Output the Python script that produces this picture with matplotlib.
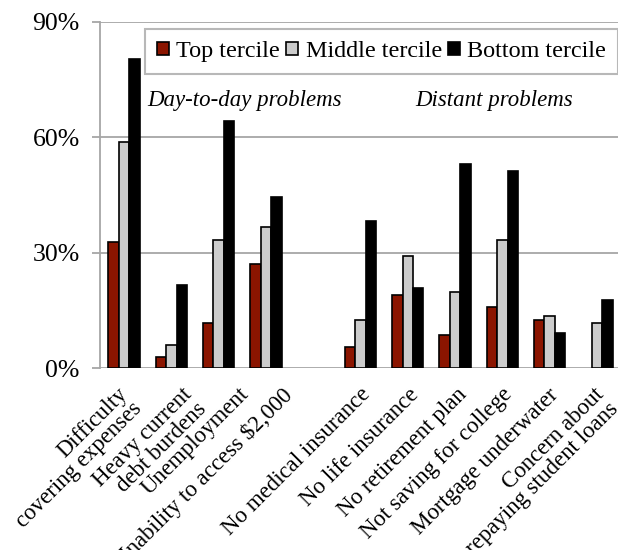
import matplotlib
matplotlib.use('Agg')
import matplotlib.pyplot as plt
import matplotlib.transforms as mtransforms
import numpy as np

# categories (two blocks separated by an empty slot)
labels = ['Difficulty\ncovering expenses', 'Heavy current\ndebt burdens',
          'Unemployment', 'Inability to access $2,000',
          'No medical insurance', 'No life insurance', 'No retirement plan',
          'Not saving for college', 'Mortgage underwater',
          'Concern about\nrepaying student loans']
n_day_to_day = 4

# share of households, percent
top_tercile = [32.8, 2.8, 11.7, 27.0, 5.4, 18.9, 8.7, 15.8, 12.6, 0.0]
middle_tercile = [58.7, 5.9, 33.2, 36.8, 12.6, 29.1, 19.7, 33.2, 13.5, 11.7]
bottom_tercile = [80.3, 21.6, 64.2, 44.5, 38.3, 20.7, 53.0, 51.2, 9.1, 17.7]

series_names = ['Top tercile', 'Middle tercile', 'Bottom tercile']
colors = ['#8b1500', '#cccccc', '#000000']

# small per-label shifts (px) so rotated labels sit like the original
label_nudge = [-7, 10, 20, 16, -1, 0, 1, -1, -2, -3]

plt.rcParams['font.family'] = ['Liberation Serif', 'DejaVu Serif']
plt.rcParams['font.size'] = 16.5

fig = plt.figure(figsize=(6.18, 5.5), dpi=100)
ax = fig.add_axes([0.1626, 0.3309, 0.8414, 0.6291])

x = np.arange(len(labels), dtype=float)
x[n_day_to_day:] += 1  # gap between the two groups
w = 0.222

for k, vals in enumerate([top_tercile, middle_tercile, bottom_tercile]):
    lw = [1.2 if v > 0 else 0 for v in vals]
    ax.bar(x + (k - 1) * w, vals, width=w, color=colors[k],
           edgecolor='black', linewidth=lw, label=series_names[k], zorder=3)

ax.set_xlim(-0.5, 10.5)
ax.set_ylim(0, 90)
ax.set_yticks([0, 30, 60, 90])
ax.set_yticklabels(['0%', '30%', '60%', '90%'], fontsize=18.5)
ax.yaxis.grid(True, color='#a6a6a6', linewidth=1.3)
ax.set_axisbelow(True)
for s in ['top', 'right', 'bottom']:
    ax.spines[s].set_visible(False)
ax.spines['left'].set_color('#a6a6a6')
ax.spines['left'].set_linewidth(1.3)
ax.tick_params(axis='y', color='#a6a6a6', width=1.3, length=6, pad=9)
ax.set_xticks([])

# rotated category labels, lines right-aligned
for xi, lab, dx in zip(x, labels, label_nudge):
    off = mtransforms.ScaledTranslation(dx / 100, -16 / 100, fig.dpi_scale_trans)
    ax.text(xi, 0, lab, rotation=45, rotation_mode='anchor', ha='right',
            va='top', multialignment='right', linespacing=0.95,
            transform=ax.get_xaxis_transform() + off, clip_on=False)

fig.text(147 / 618, 1 - 100 / 550, 'Day-to-day problems', style='italic',
         va='center', ha='left')
fig.text(415 / 618, 1 - 100 / 550, 'Distant problems', style='italic',
         va='center', ha='left')

leg = fig.legend(loc='upper left', bbox_to_anchor=(145 / 618, 1 - 29 / 550),
                 ncol=3, frameon=True, fancybox=False, fontsize=17.4,
                 handlelength=0.5, handleheight=0.5, handletextpad=0.3,
                 columnspacing=0.25, borderpad=0.5, borderaxespad=0)
leg.get_frame().set_edgecolor('#a6a6a6')
leg.get_frame().set_linewidth(1.5)

fig.savefig('out.png', dpi=100)
